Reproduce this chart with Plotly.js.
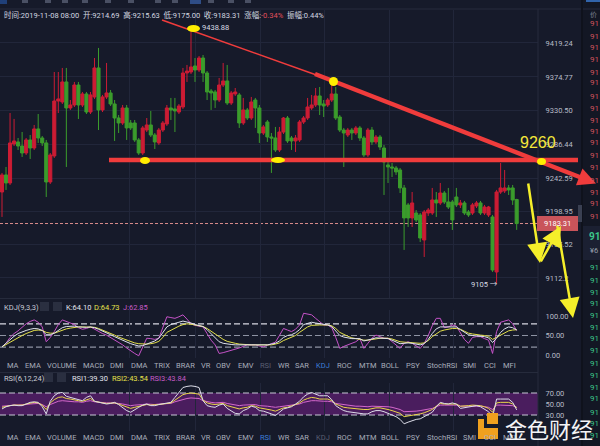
<!DOCTYPE html>
<html><head><meta charset="utf-8">
<script src="https://cdn.plot.ly/plotly-3.0.1.min.js"></script>
<style>html,body{margin:0;padding:0;background:#161a2a;overflow:hidden}#chart{width:600px;height:446px}</style>
</head><body><div id="chart"></div>
<script>
// ---------- DATA ----------
const openP = [9224.5,9246.8,9236.3,9287.3,9289.9,9284.6,9275.5,9292.5,9282.0,9306.9,9295.1,9288.6,9237.6,9271.6,9343.4,9342.1,9368.3,9334.3,9338.2,9364.3,9338.2,9352.6,9329.0,9348.7,9386.6,9331.7,9348.7,9353.9,9339.5,9321.2,9314.7,9334.3,9314.7,9314.7,9292.5,9275.5,9305.5,9312.1,9299.0,9288.6,9305.5,9313.4,9334.3,9333.0,9329.0,9335.6,9380.0,9381.3,9389.2,9383.9,9399.6,9380.0,9356.5,9355.2,9344.7,9364.3,9369.6,9340.8,9352.6,9351.3,9314.7,9331.7,9321.2,9344.7,9334.3,9301.6,9316.0,9296.4,9295.1,9279.4,9302.9,9321.2,9295.1,9291.2,9292.5,9316.0,9321.2,9334.3,9338.2,9350.0,9339.5,9338.2,9344.7,9352.6,9322.5,9305.5,9299.0,9305.5,9301.6,9308.2,9295.1,9272.9,9305.5,9289.9,9296.4,9282.0,9259.8,9257.2,9255.9,9253.3,9229.8,9207.6,9190.6,9197.1,9194.5,9161.8,9197.1,9197.1,9214.1,9210.2,9223.2,9211.5,9211.5,9218.0,9207.6,9210.2,9198.4,9197.1,9206.3,9210.2,9197.1,9194.5,9191.9,9120.0,9224.5,9225.9,9229.8,9229.8,9214.69];
const highP = [9249.4,9257.2,9327.7,9320,9295.1,9302.9,9295.1,9299.0,9312.1,9326.4,9297.7,9292.5,9275.5,9381.3,9381.3,9386.6,9386.6,9344.7,9368.3,9368.3,9355.2,9355.2,9355.2,9399.6,9412.7,9351.3,9393.1,9357.8,9344.7,9325.1,9338.2,9338.2,9318.6,9318.6,9295.1,9310.8,9321.2,9330.4,9301.6,9308.2,9317.3,9338.2,9347.4,9347.4,9339.5,9386.6,9390.5,9438.88,9399.6,9402.2,9403.5,9382.6,9359.1,9357.8,9373.5,9393.1,9390.5,9356.5,9360.4,9353.9,9347.4,9334.3,9348.7,9347.4,9338.2,9312.1,9318.6,9301.6,9309.5,9309.5,9322.5,9323.8,9297.7,9299.0,9318.6,9323.8,9347.4,9351.3,9360.4,9361.7,9344.7,9347.4,9370.9,9361.7,9325.1,9308.2,9308.2,9308.2,9310.8,9310.8,9297.7,9308.2,9309.5,9299.0,9299.0,9286.0,9266.4,9262.4,9258.5,9255.9,9233.7,9210.2,9224.5,9201.0,9197.1,9201.0,9203.6,9229.8,9224.5,9236.3,9225.9,9229.8,9214.1,9229.8,9214.1,9212.8,9201.0,9210.2,9212.8,9212.8,9207.6,9206.3,9194.5,9227.2,9262.4,9253.3,9233.7,9233.7,9215.63];
const lowP = [9191.9,9227.2,9233.7,9284.6,9279.4,9270.3,9272.9,9267.7,9279.4,9288.6,9284.6,9218.0,9235.0,9269.0,9327.7,9339.5,9257.2,9331.7,9335.6,9319.9,9335.6,9326.4,9326.4,9346.1,9305.5,9329.0,9346.1,9336.9,9291.2,9301.6,9312.1,9292.5,9305.5,9289.9,9272.9,9272.9,9302.9,9296.4,9280.7,9286.0,9302.9,9310.8,9318.6,9302.9,9326.4,9333.0,9368.3,9378.7,9368.3,9381.3,9368.3,9344.7,9331.7,9334.3,9342.1,9361.7,9338.2,9338.2,9350.0,9308.2,9312.1,9318.6,9318.6,9308.2,9288.6,9299.0,9289.9,9249.4,9276.8,9276.8,9300.3,9288.6,9279.4,9276.8,9289.9,9313.4,9318.6,9331.7,9335.6,9325.1,9322.5,9335.6,9342.1,9318.6,9302.9,9257.2,9296.4,9292.5,9299.0,9291.2,9270.3,9270.3,9286.0,9287.3,9279.4,9220.6,9236.3,9244.1,9246.8,9223.2,9148.8,9178.8,9178.8,9185.3,9159.2,9139.6,9193.2,9194.5,9191.9,9207.6,9208.9,9202.3,9174.9,9204.9,9203.6,9194.5,9191.9,9194.5,9203.6,9194.5,9194.5,9191.9,9120.0,9105.0,9222.0,9223.2,9220.6,9207.6,9175.00];
const closeP = [9246.8,9236.3,9288.6,9291.2,9284.6,9275.5,9292.5,9282.0,9306.9,9295.1,9288.6,9237.6,9272.9,9343.4,9346.1,9368.3,9334.3,9338.2,9364.3,9338.2,9352.6,9329.0,9351.3,9386.6,9331.7,9348.7,9353.9,9339.5,9321.2,9314.7,9334.3,9308.2,9308.2,9292.5,9275.5,9308.2,9312.1,9299.0,9289.9,9305.5,9314.7,9334.3,9331.7,9330.4,9336.9,9380.0,9382.6,9387.9,9383.9,9399.6,9380.0,9355.2,9353.9,9344.7,9364.3,9369.6,9340.8,9353.9,9355.2,9314.7,9331.7,9321.2,9342.1,9334.3,9301.6,9309.5,9296.4,9295.1,9279.4,9302.9,9321.2,9291.2,9291.2,9295.1,9316.0,9321.2,9335.6,9338.2,9350.0,9338.2,9336.9,9344.7,9352.6,9321.2,9305.5,9301.6,9305.5,9301.6,9308.2,9295.1,9272.9,9305.5,9289.9,9296.4,9283.3,9263.7,9257.2,9255.9,9250.7,9229.8,9190.6,9190.6,9210.2,9188.0,9164.4,9198.4,9201.0,9214.1,9210.2,9223.2,9211.5,9204.9,9188.0,9207.6,9210.2,9197.1,9194.5,9207.6,9210.2,9197.1,9204.9,9204.9,9122.6,9224.5,9229.8,9229.8,9227.2,9214.1,9183.31];

const kdjK = [21,30,40,48,55,60,63,66,68,67,63,52,52,56,64,70,73,74,74,72,71,71,72,70,66,62,57,52,47,42,38,33,29,26,23,24,28,32,36,43,57,72,78,82,84,87,85,82,78,76,73,65,55,44,34,30,28,27,26,26,26,26,26,26,25,25,26,28,30,36,45,50,52,57,65,78,82,84,82,80,78,77,73,62,50,46,44,42,42,42,36,38,41,44,43,43,42,38,33,29,30,31,30,28,26,29,40,55,67,72,72,72,73,72,65,58,52,50,49,48,47,44,32,43,58,67,72,70,64.10];
const kdjD = [21,27,34,40,46,50,55,60,63,64,63,58,56,56,60,64,67,69,71,72,72,72,72,71,68,64,61,56,51,46,42,38,34,31,29,28,28,29,31,35,45,58,64,70,74,78,80,79,77,75,73,68,61,53,45,40,35,32,30,28,27,26,26,26,26,26,26,26,28,31,37,42,45,50,58,66,72,76,77,77,77,77,75,68,58,52,48,44,42,40,38,38,40,42,43,43,43,41,37,34,33,32,31,30,30,31,37,47,55,61,64,66,68,68,66,61,56,54,52,51,50,48,40,46,52,58,62,64,64.73];
const kdjJ = [21,30,45,55,62,72,80,86,90,84,72,34,45,60,78,90,85,82,78,70,66,68,72,66,60,55,51,45,38,32,26,18,10,4,-2,20,43,42,40,43,70,98,96,94,98,103,92,80,76,74,72,55,38,26,4,6,9,11,13,18,22,26,26,26,23,21,25,29,33,50,68,64,60,66,77,107,105,103,94,85,77,77,70,45,17,22,26,30,34,42,17,30,43,51,46,43,43,35,26,17,30,34,30,24,17,30,50,75,94,94,70,72,77,74,55,40,30,45,47,47,42,38,4,60,84,88,90,80,62.85];

const rsi1 = [41,45,47,48,47,47,50,53,54,53,45,32,55,65,70,71,64,62,59,57,56,62,65,55,53,52,50,51,53,49,44,38,35,40,44,48,50,47,47,49,50,52,53,62,70,80,82,83,82,80,56,47,45,44,48,50,42,38,33,32,38,41,46,44,38,37,35,32,29,35,41,43,45,50,55,63,68,71,68,65,65,65,58,47,42,38,36,35,33,32,32,32,36,38,38,36,33,30,27,22,14,17,20,22,23,27,31,35,45,53,51,50,52,50,42,43,44,46,47,45,41,36,26,59,59,59,59,53,39.30];
const rsi2 = [44,46,47,48,48,48,50,52,53,52,48,40,52,58,62,63,60,59,57,56,55,58,60,55,53,52,51,51,52,50,47,44,42,44,46,48,49,48,48,49,50,51,52,57,62,67,69,70,69,68,57,52,50,49,50,51,47,45,42,41,43,44,47,46,43,42,41,39,37,40,43,44,46,49,52,57,60,62,61,59,59,59,56,50,47,44,43,42,41,40,40,40,42,43,43,42,40,38,36,33,27,28,30,31,32,34,37,40,46,51,50,50,51,50,46,46,47,48,48,47,45,42,35,52,53,53,53,50,43.54];
const rsi3 = [46,47,47,48,48,48,49,50,51,51,49,45,49,52,55,56,55,55,54,54,53,55,56,54,53,53,52,52,52,51,50,48,47,48,48,49,50,49,49,50,50,51,51,54,56,59,60,61,60,60,56,54,53,52,52,53,51,50,48,47,48,48,49,49,47,47,46,45,44,45,46,47,48,49,50,53,55,56,56,55,55,55,54,51,50,48,48,47,46,46,45,45,46,46,46,46,45,44,42,40,36,36,37,37,38,39,40,42,45,48,48,48,48,48,46,46,46,47,47,46,45,44,40,48,48,48,48,47,43.84];

const priceTicks = [9419.24, 9374.77, 9330.50, 9286.44, 9242.59, 9198.95, 9155.52, 9112.2];
const priceTickText = ['9419.24','9374.77','9330.50','9286.44','9242.59','9198.95','9155.52','9112.2'];
const lastPrice = 9183.31;
const kdjTicks = [0, 50, 100], kdjTickText = ['0.00','50.00','100.00'];
const rsiTicks = [30, 50, 70], rsiTickText = ['30.00','50.00','70.00'];
const tabNames = ['MA','EMA','VOLUME','MACD','DMI','DMA','TRIX','BRAR','VR','OBV','EMV','RSI','WR','SAR','KDJ','ROC','MTM','BOLL','PSY','StochRSI','SMI','CCI','MFI'];

// ---------- LAYOUT HELPERS ----------
const W = 600, H = 446;
const PX = x => x / W, PY = y => 1 - y / H;
const FONT = "Roboto, 'Noto Sans CJK SC', sans-serif";
const BG = '#161a2a', GRID = '#21263a', RED = '#cc1c34', GREEN = '#3b9c2c';
const idx = openP.map((_, i) => i);

const traces = [
  {type:'candlestick', x:idx, open:openP, high:highP, low:lowP, close:closeP, xaxis:'x', yaxis:'y',
   increasing:{line:{color:RED,width:1}, fillcolor:RED},
   decreasing:{line:{color:GREEN,width:1}, fillcolor:GREEN},
   whiskerwidth:0, hoverinfo:'skip'},
  {type:'scatter', mode:'lines', x:idx, y:kdjJ, yaxis:'y2', line:{color:'#c552c8',width:1}, hoverinfo:'skip'},
  {type:'scatter', mode:'lines', x:idx, y:kdjD, yaxis:'y2', line:{color:'#e3e04a',width:1}, hoverinfo:'skip'},
  {type:'scatter', mode:'lines', x:idx, y:kdjK, yaxis:'y2', line:{color:'#dfe2ee',width:1}, hoverinfo:'skip'},
  {type:'scatter', mode:'lines', x:idx, y:rsi3, yaxis:'y3', line:{color:'#d467cc',width:1}, hoverinfo:'skip'},
  {type:'scatter', mode:'lines', x:idx, y:rsi2, yaxis:'y3', line:{color:'#e8d64a',width:1}, hoverinfo:'skip'},
  {type:'scatter', mode:'lines', x:idx, y:rsi1, yaxis:'y3', line:{color:'#dcdde8',width:1}, hoverinfo:'skip'}
];

const axisTick = {size:7.5, color:'#b8bcc8', family:FONT};
const plotRight = 538 / W;
const gridX = [31.8, 48, 64.2, 80.1, 96.3, 112.2];

const shapes = [];
const annotations = [];
function line(x0,y0,x1,y1,color,width,dash){shapes.push({type:'line',xref:'paper',yref:'paper',x0:PX(x0),y0:PY(y0),x1:PX(x1),y1:PY(y1),line:{color:color,width:width,dash:dash||'solid'}});}
function rect(x0,y0,x1,y1,fill,layer){shapes.push({type:'rect',xref:'paper',yref:'paper',x0:PX(x0),y0:PY(y0),x1:PX(x1),y1:PY(y1),fillcolor:fill,line:{width:0},layer:layer||'above'});}
function ell(x0,y0,x1,y1,fill){shapes.push({type:'circle',xref:'paper',yref:'paper',x0:PX(x0),y0:PY(y0),x1:PX(x1),y1:PY(y1),fillcolor:fill,line:{width:0}});}
function txt(x,y,t,color,size,anchor,fam){annotations.push({xref:'paper',yref:'paper',x:PX(x),y:PY(y),text:t,showarrow:false,xanchor:anchor||'left',yanchor:'middle',font:{color:color,size:size||7.5,family:fam||FONT}});}
function arrow(hx,hy,tx,ty,color,width,size){annotations.push({xref:'paper',yref:'paper',x:PX(hx),y:PY(hy),ax:tx-hx,ay:ty-hy,text:'',showarrow:true,arrowhead:2,arrowsize:size,arrowwidth:width,arrowcolor:color});}

// panel backgrounds / separators
rect(582, 0, 600, 446, '#131724', 'below');
rect(582, 226, 600, 260, '#1b2032', 'below');
rect(0, 0, 7, 4, '#20407a', 'below');
[22, 45, 62, 82, 105, 128, 155, 172, 192, 208, 228, 245].forEach(x => rect(x, 0, x + 6, 3, '#4a5064', 'below'));
rect(190, 0, 201, 4, '#2f4d86', 'below');
line(0, 9, 600, 9, '#262b3c', 1);
line(538, 9, 538, 446, '#262b3c', 1);
line(582, 0, 582, 446, '#0f121c', 2);
line(0, 298.5, 538, 298.5, '#262b3c', 1);
line(0, 372.5, 538, 372.5, '#262b3c', 1);
// RSI band & dashed guide lines
shapes.push({type:'rect',xref:'paper',yref:'y3',x0:0,x1:plotRight,y0:30,y1:70,fillcolor:'#4a1d5e',line:{width:0},layer:'below'});
[[80,'#d8d8e2'],[50,'#8e93a3'],[20,'#8e93a3']].forEach(([v,c])=>shapes.push({type:'line',xref:'paper',yref:'y2',x0:0,x1:plotRight,y0:v,y1:v,line:{color:c,width:1.2,dash:'6px,3px'},layer:'below'}));
[70,30].forEach(v=>shapes.push({type:'line',xref:'paper',yref:'y3',x0:0,x1:plotRight,y0:v,y1:v,line:{color:'#c8c8d6',width:1.2,dash:'6px,3px'},layer:'below'}));
shapes.push({type:'line',xref:'paper',yref:'y',x0:0,x1:plotRight,y0:lastPrice,y1:lastPrice,line:{color:'#d98c8c',width:1,dash:'3px,2px'},layer:'below'});

// hand-drawn overlays
line(109, 160, 578, 160, '#f03c3c', 4.5);
line(162, 20, 322, 77, '#f03c3c', 1.6);
line(315, 74, 586, 179.5, '#f03c3c', 4.5);
arrow(596, 183.5, 578, 176.5, '#f03c3c', 4.5, 0.8);
ell(187, 25, 200, 32, '#ffee00');
ell(329, 77, 338, 86, '#ffee00');
ell(140, 157, 150, 164, '#ffee00');
ell(271, 157, 285, 163, '#ffee00');
ell(537, 158, 546, 165, '#ffee00');
arrow(540, 263, 528, 182, '#f5ef2a', 2.5, 1.6);
arrow(561, 226, 540, 263, '#f5ef2a', 2.5, 1.6);
arrow(573, 318, 557, 224, '#f5ef2a', 2.5, 1.6);
txt(518, 142, '9260', '#f5e83a', 16, 'left', "'Liberation Sans', sans-serif");

// current price tag
rect(537, 216, 578, 231, '#c9545a');
txt(557.5, 223.5, '9183.31', '#ffffff', 7.5, 'center');
rect(578, 205, 582, 222, '#3a4052');

// labels on chart
txt(200, 28, '9438.88', '#d8dbe4', 7.5);
txt(469, 284, '9105 →', '#d8dbe4', 7.5);

// info line
txt(2, 15, '时间:2019-11-08 08:00  开:9214.69  高:9215.63  低:9175.00  收:9183.31  涨幅:<span style="color:#e0505c">-0.34%</span>  振幅:0.44%', '#d4d7e0', 7.5);

// indicator titles
txt(2, 307, 'KDJ(9,3,3)', '#c9ccd6', 7.5);
rect(40, 302, 49, 311, '#2a2f40'); rect(53, 302, 62, 311, '#2a2f40');
txt(64, 307, 'K:64.10', '#e4e6ee', 7.5);
txt(92, 307, 'D:64.73', '#e6e24a', 7.5);
txt(121, 307, 'J:62.85', '#c75ac9', 7.5);
txt(2, 378, 'RSI(6,12,24)', '#c9ccd6', 7.5);
rect(44, 373, 53, 382, '#2a2f40'); rect(57, 373, 66, 382, '#2a2f40');
txt(70, 378, 'RSI1:39.30', '#e4e6ee', 7.5);
txt(110, 378, 'RSI2:43.54', '#e6e24a', 7.5);
txt(148, 378, 'RSI3:43.84', '#c75ac9', 7.5);

// indicator tab rows
const tabX = [5,23,45,81,108,129,152,174,199,214,236,258,276,293,314,335,357,379,404,425,461,482,501];
tabNames.forEach((n,i)=>{
  const c1 = n==='RSI' ? '#5a5f72' : (n==='KDJ' ? '#3d7fd9' : '#a9aebb');
  const c2 = n==='KDJ' ? '#5a5f72' : (n==='RSI' ? '#3d7fd9' : '#a9aebb');
  txt(tabX[i], 365, n, c1, 7.5);
  txt(tabX[i], 437, n, c2, 7.5);
});

// order book column (only the visible first digits)
const askY = [23,36,48,60,72,83,97,108,120,132,143,155,167,180,192,203,217];
const bidY = [267,280,292,303,315,327,338,350,363,375,387,398,412,423,435];
txt(588, 15, '价', '#7a8090', 7);
line(586, 1, 600, 1, '#3d7fd9', 1.5);
askY.forEach(y=>txt(588, y, '91', '#d4545c', 8));
bidY.forEach(y=>txt(588, y, '91', '#3cc78a', 8));
txt(586.5, 236, '<b>91</b>', '#3cc78a', 10);
txt(588, 251, '¥6', '#9aa0ae', 7.5);

// watermark
rect(487, 413, 498, 424, '#f0a01e');
rect(478, 428, 498, 439, '#f0a01e');
rect(478, 419, 484, 439, '#f0a01e');
txt(503, 428, '金色财经', '#f4f4f6', 22, 'left', "'Noto Sans CJK SC', sans-serif");

const layout = {
  width: W, height: H, margin:{l:0,r:0,t:0,b:0},
  paper_bgcolor: BG, plot_bgcolor: BG, showlegend:false,
  boxgap: 0.1, boxgroupgap: 0.15,
  font:{family:FONT, size:7.5, color:'#b8bcc8'},
  xaxis:{domain:[0, plotRight], range:[-0.5, 133.3], rangeslider:{visible:false}, showticklabels:false, ticks:'',
         tickvals:gridX, showgrid:true, gridcolor:GRID, zeroline:false, showline:false, fixedrange:true},
  yaxis:{domain:[PY(298), PY(10)], range:[9086.0, 9462.3], side:'right', tickvals:priceTicks, ticktext:priceTickText,
         ticks:'outside', ticklen:5, tickcolor:'rgba(0,0,0,0)', tickfont:axisTick, gridcolor:GRID, zeroline:false, showline:false},
  yaxis2:{domain:[PY(358), PY(310)], range:[-7.7, 115.4], side:'right', anchor:'x', tickvals:kdjTicks, ticktext:kdjTickText,
         ticks:'outside', ticklen:5, tickcolor:'rgba(0,0,0,0)', tickfont:axisTick, showgrid:false, zeroline:false, showline:false},
  yaxis3:{domain:[PY(431), PY(383)], range:[0.9, 88.2], side:'right', anchor:'x', tickvals:rsiTicks, ticktext:rsiTickText,
         ticks:'outside', ticklen:5, tickcolor:'rgba(0,0,0,0)', tickfont:axisTick, showgrid:false, zeroline:false, showline:false},
  shapes: shapes, annotations: annotations
};

Plotly.newPlot('chart', traces, layout, {staticPlot:true, displayModeBar:false});
</script>
</body></html>
